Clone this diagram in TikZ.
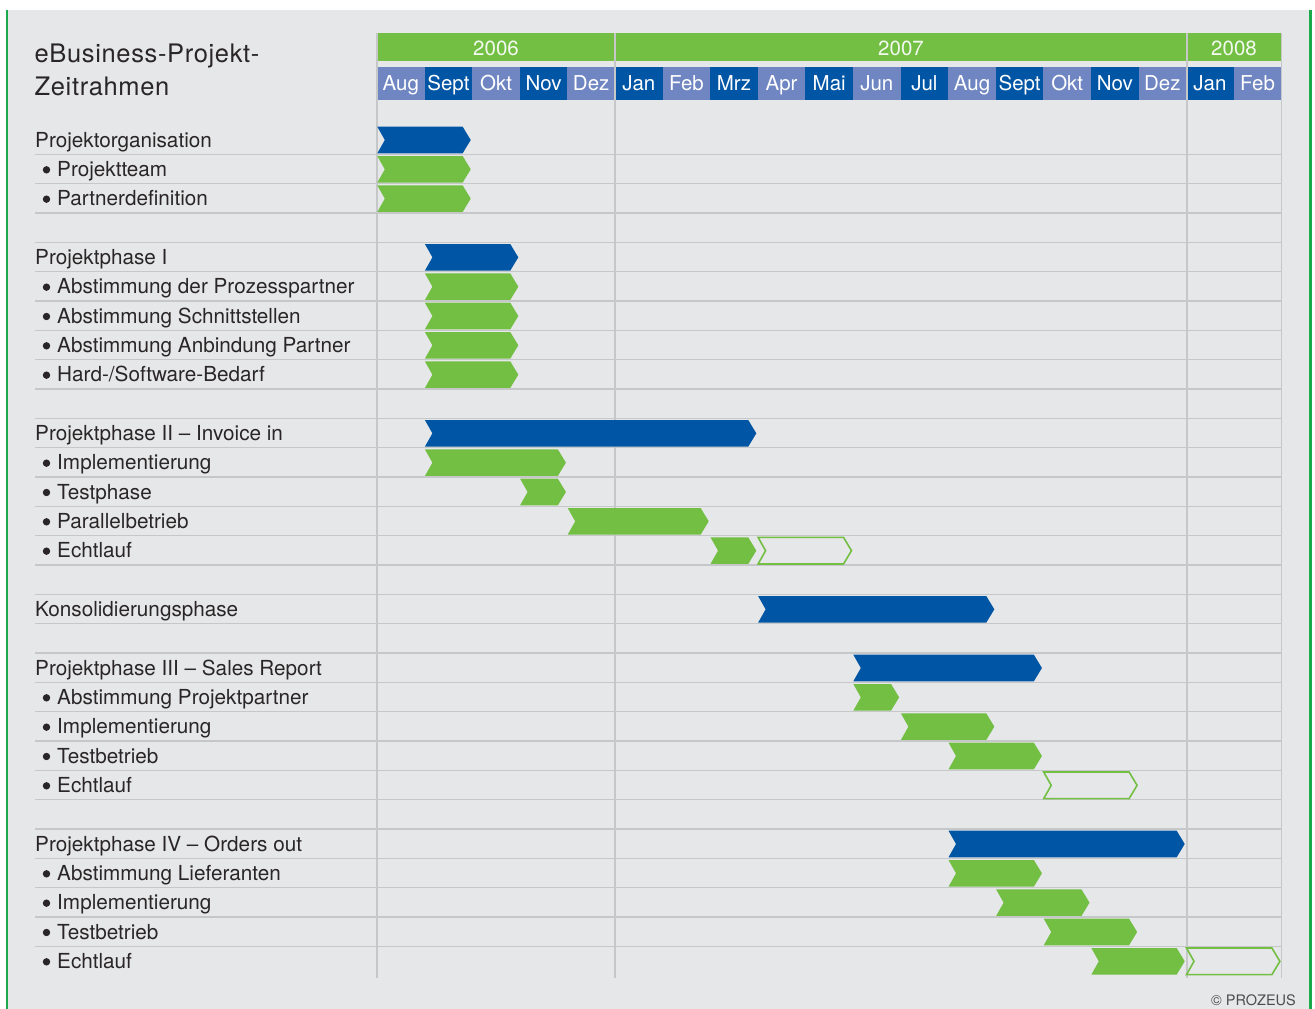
\documentclass[tikz,border=0pt]{standalone}
\usepackage{fontspec}
\setmainfont{TeX Gyre Heros}
\newfontfamily\ttlfont[LetterSpace=2.5]{TeX Gyre Heros}
\definecolor{bgc}{HTML}{E6E7E8}
\definecolor{gridc}{HTML}{C6C7C9}
\definecolor{dblue}{HTML}{0055A4}
\definecolor{lblue}{HTML}{6F86C2}
\definecolor{lgreen}{HTML}{72BF44}
\definecolor{bgreen}{HTML}{1BAA4B}
\definecolor{txt}{HTML}{2A2627}
\definecolor{copyc}{HTML}{4D4D4F}
\newcommand\gbar[4]{%
  \pgfmathsetmacro\gxa{377+47.6*#2+0.3}%
  \pgfmathsetmacro\gxb{377+47.6*#3-1.5}%
  \pgfmathsetmacro\gyt{125+29.333*#1+1.7}%
  \pgfmathsetmacro\gyb{125+29.333*#1+28.3}%
  \pgfmathsetmacro\gym{125+29.333*#1+15}%
  \path[#4] (\gxa,\gyt) -- (\gxb-8,\gyt) -- (\gxb,\gym) -- (\gxb-8,\gyb) -- (\gxa,\gyb) -- (\gxa+7.5,\gym) -- cycle;
}
\tikzset{
  phase/.style={fill=dblue},
  task/.style={fill=lgreen},
  future/.style={draw=lgreen, line width=1.6, line join=miter},
  lab/.style={anchor=base west, inner sep=0pt, text=txt, font=\fontsize{20.7}{24}\selectfont},
  ttl/.style={anchor=base west, inner sep=0pt, text=txt, font=\ttlfont\fontsize{25.5}{30}\selectfont},
  mon/.style={anchor=base, inner sep=0pt, text=white, font=\fontsize{20.5}{24}\selectfont},
  yr/.style={anchor=base, inner sep=0pt, text=white!92!lgreen, font=\fontsize{20.5}{24}\selectfont},
  gridline/.style={draw=gridc, line width=1.3},
  dot/.style={circle, fill=txt, inner sep=0pt, minimum size=7.4pt},
}
\begin{document}
\begin{tikzpicture}[x=1pt,y=-1pt]
\useasboundingbox (0,0) rectangle (1315,1009);
\fill[white] (0,0) rectangle (1315,1009);
\fill[bgc] (7,10) rectangle (1310.5,1009);
\draw[bgreen, line width=2.4] (7.2,10) -- (7.2,1009);
\draw[bgreen, line width=2.4] (1310.5,10) -- (1310.5,1009);
% year bar
\fill[lgreen] (377.5,33) rectangle (1281,60.7);
\node[yr] (y2006) at (496,55) {2006};
\node[yr] (y2007) at (901,55) {2007};
\node[yr] (y2008) at (1234,55) {2008};
% months
\foreach \m [count=\i from 0] in {Aug,Sept,Okt,Nov,Dez,Jan,Feb,Mrz,Apr,Mai,Jun,Jul,Aug,Sept,Okt,Nov,Dez,Jan,Feb}{
  \pgfmathsetmacro\mx{377+47.6*\i}
  \pgfmathtruncatemacro\odd{mod(\i,2)}
  \ifnum\odd=1 \def\mc{dblue}\else\def\mc{lblue}\fi
  \fill[\mc] (\mx,66.7) rectangle (\mx+47.6,99.7);
  \node[mon] (m\i) at (\mx+23.8,90) {\m};
}
% horizontal grid lines
\foreach \k in {1,...,28}{
  \draw[gridline] (35,125+29.333*\k) -- (1281,125+29.333*\k);
}
% vertical grid lines
\foreach \vx in {377,615,1187,1281.5}{
  \draw[gridline] (\vx,33) -- (\vx,978);
}
% title
\node[ttl] (t1) at (34.5,62) {eBusiness-Projekt-};
\node[ttl] (t2) at (34.5,95) {Zeitrahmen};
% row labels
\foreach \r/\t in {0/Projektorganisation,4/Projektphase I,10/Projektphase II – Invoice in,16/Konsolidierungsphase,18/Projektphase III – Sales Report,24/Projektphase IV – Orders out}{
  \node[lab] (h\r) at (35,125+29.333*\r+22.3) {\t};
}
\foreach \r/\t in {1/Projektteam,2/Partnerdefinition,5/Abstimmung der Prozesspartner,6/Abstimmung Schnittstellen,7/Abstimmung Anbindung Partner,8/{Hard-/Software-Bedarf},11/Implementierung,12/Testphase,13/Parallelbetrieb,14/Echtlauf,19/Abstimmung Projektpartner,20/Implementierung,21/Testbetrieb,22/Echtlauf,25/Abstimmung Lieferanten,26/Implementierung,27/Testbetrieb,28/Echtlauf}{
  \node[dot] (b\r) at (46.5,125+29.333*\r+15.5) {};
  \node[lab] (s\r) at (57,125+29.333*\r+22.3) {\t};
}
% bars
\gbar{0}{0}{2}{phase}
\gbar{1}{0}{2}{task}
\gbar{2}{0}{2}{task}
\gbar{4}{1}{3}{phase}
\gbar{5}{1}{3}{task}
\gbar{6}{1}{3}{task}
\gbar{7}{1}{3}{task}
\gbar{8}{1}{3}{task}
\gbar{10}{1}{8}{phase}
\gbar{11}{1}{4}{task}
\gbar{12}{3}{4}{task}
\gbar{13}{4}{7}{task}
\gbar{14}{7}{8}{task}
\gbar{14}{8}{10}{future}
\gbar{16}{8}{13}{phase}
\gbar{18}{10}{14}{phase}
\gbar{19}{10}{11}{task}
\gbar{20}{11}{13}{task}
\gbar{21}{12}{14}{task}
\gbar{22}{14}{16}{future}
\gbar{24}{12}{17}{phase}
\gbar{25}{12}{14}{task}
\gbar{26}{13}{15}{task}
\gbar{27}{14}{16}{task}
\gbar{28}{15}{17}{task}
\gbar{28}{17}{19}{future}
% copyright
\node[anchor=base east, inner sep=0pt, text=copyc, font=\fontsize{14.5}{17}\selectfont] (copy) at (1296,1005) {© PROZEUS};
\end{tikzpicture}
\end{document}
